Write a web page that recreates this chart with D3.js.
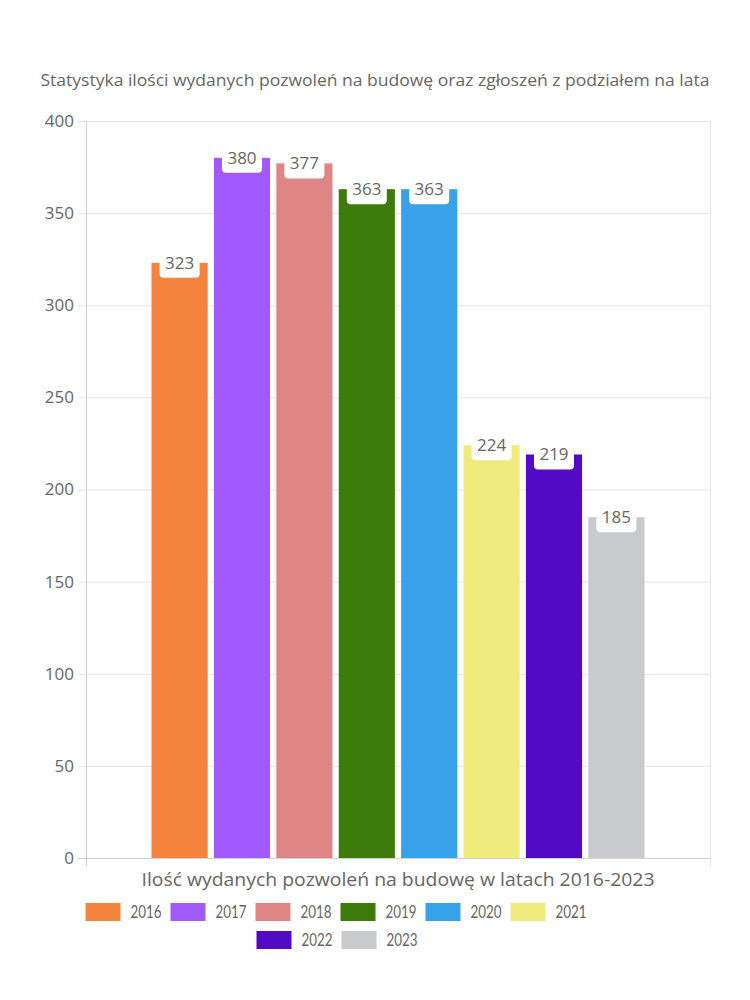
<!DOCTYPE html>
<html><head><meta charset="utf-8">
<script src="https://cdn.jsdelivr.net/npm/d3@7"></script>
<style>body{margin:0;background:#fff}svg{display:block;font-family:"Open Sans",sans-serif}</style>
</head><body>
<script>
const years = ["2016","2017","2018","2019","2020","2021","2022","2023"];
const values = [323,380,377,363,363,224,219,185];
const colors = ["#F5843F","#A05AFD","#E08585","#3D7B0C","#37A1E9","#F0EB7D","#520AC4","#C9CACE"];
const yTicks = [0,50,100,150,200,250,300,350,400];
const title = "Statystyka ilości wydanych pozwoleń na budowę oraz zgłoszeń z podziałem na lata";
const xTitle = "Ilość wydanych pozwoleń na budowę w latach 2016-2023";

const W=750,H=1000;
const L=86,R=710,T=121,B=858;
const svg=d3.select("body").append("svg").attr("width",W).attr("height",H);
const txt="#666";

const y=d3.scaleLinear().domain([0,400]).range([B,T]);
const catW=(R-L)*0.1;
const x=d3.scaleBand().domain(years).range([L+catW,R-catW]).paddingInner(0.1).paddingOuter(0.05);

// title
svg.append("text").attr("x",375).attr("y",86).attr("text-anchor","middle")
  .attr("font-size",16).attr("fill",txt).attr("textLength",669).attr("lengthAdjust","spacingAndGlyphs").text(title);

// grid
svg.append("g").selectAll("line").data(yTicks).join("line")
  .attr("x1",L-8).attr("x2",R).attr("y1",d=>y(d)+0.5).attr("y2",d=>y(d)+0.5)
  .attr("stroke",d=>d===0?"#d0d0d0":"#e6e6e6");
svg.append("line").attr("x1",L+0.5).attr("x2",L+0.5).attr("y1",T).attr("y2",B+8).attr("stroke","#d0d0d0");
svg.append("line").attr("x1",R+0.5).attr("x2",R+0.5).attr("y1",T).attr("y2",B+8).attr("stroke","#e6e6e6");

// y labels
svg.append("g").selectAll("text").data(yTicks).join("text")
  .attr("x",74).attr("y",d=>y(d)).attr("dy","0.35em").attr("text-anchor","end")
  .attr("font-size",17).attr("fill",txt).text(d=>d);

// bars
const data=years.map((k,i)=>({k,v:values[i],c:colors[i]}));
svg.append("g").selectAll("rect").data(data).join("rect")
  .attr("x",d=>x(d.k)).attr("width",x.bandwidth()).attr("y",d=>y(d.v)).attr("height",d=>B-y(d.v)).attr("fill",d=>d.c);

// labels
const lg=svg.append("g").selectAll("g").data(data).join("g")
  .attr("transform",d=>`translate(${x(d.k)+x.bandwidth()/2},${y(d.v)})`);
lg.append("rect").attr("x",-20).attr("y",-15).attr("width",40).attr("height",30).attr("rx",4).attr("fill","#fff");
lg.append("text").attr("text-anchor","middle").attr("y",6).attr("font-size",17).attr("fill",txt).text(d=>d.v);

// x title
svg.append("text").attr("x",398).attr("y",886).attr("text-anchor","middle")
  .attr("font-size",18).attr("fill",txt).attr("textLength",513).attr("lengthAdjust","spacingAndGlyphs").text(xTitle);

// legend
const row1=years.slice(0,6), row2=years.slice(6);
function legRow(keys,cx,yc){
  const g=svg.append("g");
  const items=g.selectAll("g").data(keys).join("g");
  items.append("rect").attr("x",0).attr("y",-9).attr("width",35).attr("height",18).attr("fill",d=>colors[years.indexOf(d)]);
  const t=items.append("text").attr("x",45).attr("dy","0.36em").attr("font-size",18).attr("fill",txt)
    .attr("textLength",31).attr("lengthAdjust","spacingAndGlyphs").style("font-family","Lato, sans-serif").text(d=>d);
  const widths=t.nodes().map(n=>45+31+9);
  const total=d3.sum(widths)-9;
  let xx=cx-total/2;
  items.each(function(d,i){d3.select(this).attr("transform",`translate(${xx},${yc})`);xx+=widths[i];});
}
legRow(row1,336,912);
legRow(row2,337,940);
</script>
</body></html>
